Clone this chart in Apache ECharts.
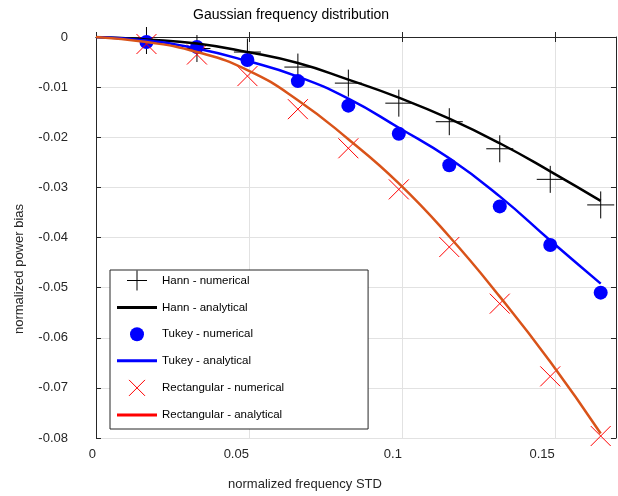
<!DOCTYPE html>
<html>
<head>
<meta charset="utf-8">
<script src="https://cdn.jsdelivr.net/npm/echarts@6/dist/echarts.min.js"></script>
<style>
  html, body { margin: 0; padding: 0; background: #fff; }
  #main { width: 618px; height: 496px; }
</style>
</head>
<body>
<div id="main"></div>
<script>
// 数据
var freqStd = [0.0165, 0.033, 0.0495, 0.066, 0.0825, 0.099, 0.1155, 0.132, 0.1485, 0.165];
var curveX = [0, 0.0165, 0.033, 0.0495, 0.066, 0.0825, 0.099, 0.1155, 0.132, 0.1485, 0.165];

var hannNum = [-0.0007, -0.0023, -0.0030, -0.0060, -0.0092, -0.0132, -0.0169, -0.0223, -0.0284, -0.0335];
var hannCurve = [0, -0.0005, -0.0013, -0.0030, -0.0052, -0.0085, -0.0121, -0.0163, -0.0212, -0.0268, -0.0327];
var tukeyNum = [-0.0010, -0.0020, -0.0046, -0.0088, -0.0137, -0.0193, -0.0256, -0.0338, -0.0415, -0.0510];
var tukeyCurve = [0, -0.0007, -0.0023, -0.0048, -0.0079, -0.0123, -0.0181, -0.0242, -0.0318, -0.0406, -0.0492];
var rectNum = [-0.0014, -0.0035, -0.0078, -0.0144, -0.0222, -0.0304, -0.0419, -0.0532, -0.0677, -0.0796];
var rectCurve = [0, -0.0010, -0.0030, -0.0066, -0.0126, -0.0204, -0.0292, -0.0398, -0.0518, -0.0648, -0.0791];

var seriesNames = [
  'Hann - numerical', 'Hann - analytical',
  'Tukey - numerical', 'Tukey - analytical',
  'Rectangular - numerical', 'Rectangular - analytical'
];

function pairs(xs, ys) {
  return ys.map(function (y, i) { return [xs[i], y]; });
}

var font = '"Liberation Sans", Arial, Helvetica, sans-serif';
var axisColor = '#262626';
var plusPath = 'path://M0,-1L0,1M-1,0L1,0';
var crossPath = 'path://M-1,-1L1,1M-1,1L1,-1';
var dotPath = 'path://M-1,0A1,1,0,1,0,1,0A1,1,0,1,0,-1,0Z';
// 图例里的线段图标（40 x 3）
var lineIcon = 'path://M0,-1.5L40,-1.5L40,1.5L0,1.5Z';

var myChart = echarts.init(document.getElementById('main'), null, { renderer: 'canvas' });

var option = {
  animation: false,
  textStyle: { fontFamily: font },
  title: {
    text: 'Gaussian frequency distribution',
    left: 193,
    top: 8,
    padding: 0,
    textStyle: { fontFamily: font, fontSize: 14, fontWeight: 'normal', color: '#000' }
  },
  grid: { left: 96, right: 2, top: 37, bottom: 56 },
  legend: {
    orient: 'vertical',
    left: 110,
    top: 270,
    padding: [0, 84, 4, 7],
    itemWidth: 40,
    itemHeight: 20,
    itemGap: 6.6,
    borderColor: axisColor,
    borderWidth: 1,
    backgroundColor: '#fff',
    textStyle: { fontFamily: font, fontSize: 11.5, color: '#000', lineHeight: 20 },
    data: [
      { name: seriesNames[0], icon: plusPath, itemStyle: { color: 'rgba(0,0,0,0)', borderColor: '#000', borderWidth: 1, opacity: 1 } },
      { name: seriesNames[1], icon: lineIcon, itemStyle: { color: '#000', borderWidth: 0 } },
      { name: seriesNames[2], icon: 'path://M-1.43,-1.43M1.43,1.43M-1,0A1,1,0,1,0,1,0A1,1,0,1,0,-1,0Z', itemStyle: { color: '#0000ff', opacity: 1 } },
      { name: seriesNames[3], icon: lineIcon, itemStyle: { color: '#0000ff', borderWidth: 0 } },
      { name: seriesNames[4], icon: 'path://M-1.25,-1.25M1.25,1.25M-1,-1L1,1M-1,1L1,-1', itemStyle: { color: 'rgba(0,0,0,0)', borderColor: '#ff0000', borderWidth: 1, opacity: 1 } },
      { name: seriesNames[5], icon: lineIcon, itemStyle: { color: '#ff0000', borderWidth: 0 } }
    ]
  },
  xAxis: [
    {
      type: 'value',
      min: 0,
      max: 0.17,
      interval: 0.05,
      name: 'normalized frequency STD',
      nameLocation: 'middle',
      nameGap: 40,
      nameTextStyle: { fontFamily: font, fontSize: 13, color: '#262626', padding: [0, 102, 0, 0] },
      axisLine: { show: true, lineStyle: { color: axisColor, width: 1 } },
      axisTick: { show: true, inside: true, length: 5, lineStyle: { color: axisColor } },
      axisLabel: { fontFamily: font, fontSize: 13, color: '#262626', margin: 10, showMaxLabel: false, align: 'right' },
      splitLine: { show: true, lineStyle: { color: '#e2e2e2', width: 1 } }
    },
    {
      type: 'value',
      position: 'top',
      min: 0,
      max: 0.17,
      interval: 0.05,
      axisLine: { show: true, onZero: false, lineStyle: { color: axisColor, width: 1 } },
      axisTick: { show: true, inside: true, length: 5, lineStyle: { color: axisColor } },
      axisLabel: { show: false },
      splitLine: { show: false }
    }
  ],
  yAxis: [
    {
      type: 'value',
      min: -0.08,
      max: 0,
      interval: 0.01,
      name: 'normalized power bias',
      nameLocation: 'middle',
      nameGap: 70,
      nameTextStyle: { fontFamily: font, fontSize: 13, color: '#262626', padding: [0, 63, 0, 0] },
      axisLine: { show: true, onZero: false, lineStyle: { color: axisColor, width: 1 } },
      axisTick: { show: true, inside: true, length: 5, lineStyle: { color: axisColor } },
      axisLabel: { fontFamily: font, fontSize: 13, color: '#262626', margin: 28, padding: [0, 0, 10, 0] },
      splitLine: { show: true, lineStyle: { color: '#e2e2e2', width: 1 } }
    },
    {
      type: 'value',
      position: 'right',
      min: -0.08,
      max: 0,
      interval: 0.01,
      axisLine: { show: true, onZero: false, lineStyle: { color: axisColor, width: 1 } },
      axisTick: { show: true, inside: true, length: 5, lineStyle: { color: axisColor } },
      axisLabel: { show: false },
      splitLine: { show: false }
    }
  ],
  series: [
    {
      name: seriesNames[0],
      type: 'scatter',
      symbol: plusPath,
      symbolSize: 27,
      itemStyle: { color: 'rgba(0,0,0,0)', borderColor: '#000', borderWidth: 1, opacity: 1 },
      data: pairs(freqStd, hannNum)
    },
    {
      name: seriesNames[1],
      type: 'line',
      smooth: true,
      symbol: 'none',
      itemStyle: { color: '#000' },
      lineStyle: { color: '#000', width: 2.5 },
      data: pairs(curveX, hannCurve)
    },
    {
      name: seriesNames[2],
      type: 'scatter',
      symbol: dotPath,
      symbolSize: 14,
      itemStyle: { color: '#0000ff', opacity: 1 },
      data: pairs(freqStd, tukeyNum)
    },
    {
      name: seriesNames[3],
      type: 'line',
      smooth: true,
      symbol: 'none',
      itemStyle: { color: '#0000ff' },
      lineStyle: { color: '#0000ff', width: 2.5 },
      data: pairs(curveX, tukeyCurve)
    },
    {
      name: seriesNames[4],
      type: 'scatter',
      symbol: crossPath,
      symbolSize: 20,
      itemStyle: { color: 'rgba(0,0,0,0)', borderColor: '#ff0000', borderWidth: 1, opacity: 1 },
      data: pairs(freqStd, rectNum)
    },
    {
      name: seriesNames[5],
      type: 'line',
      smooth: true,
      symbol: 'none',
      itemStyle: { color: '#d95319' },
      lineStyle: { color: '#d95319', width: 2.5 },
      data: pairs(curveX, rectCurve)
    }
  ]
};

myChart.setOption(option);
</script>
</body>
</html>
